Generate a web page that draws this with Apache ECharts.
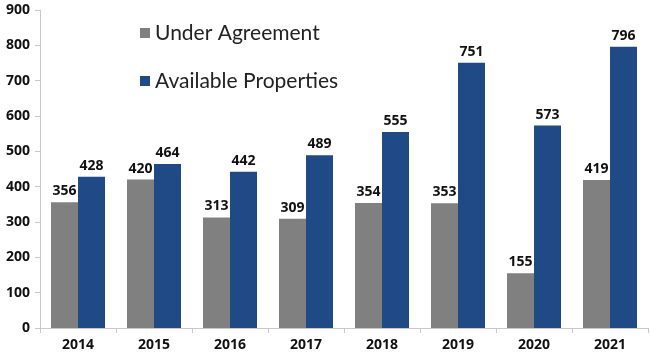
<!DOCTYPE html>
<html><head><meta charset="utf-8">
<script src="https://cdn.jsdelivr.net/npm/echarts@6/dist/echarts.min.js"></script>
<style>html,body{margin:0;padding:0;background:#fff}#c{width:650px;height:358px}</style>
</head><body><div id="c"></div>
<script>
const years = ['2014','2015','2016','2017','2018','2019','2020','2021'];
const underAgreement = [356,420,313,309,354,353,155,419];
const availableProperties = [428,464,442,489,555,751,573,796];
const yTicks = {min:0, max:900, interval:100};

const chart = echarts.init(document.getElementById('c'), null, {renderer:'canvas'});
const lbl = {show:true, position:'top', color:'#111', fontWeight:'bold', fontSize:14, fontFamily:'Open Sans', distance:4};
chart.setOption({
  animation:false,
  grid:{left:40, right:2, top:10, bottom:30, containLabel:false},
  legend:{orient:'vertical', left:135, top:17, itemWidth:10, itemHeight:10, itemGap:26, icon:'rect',
    textStyle:{fontSize:21, lineHeight:22, color:'#222', fontFamily:'Lato'}},
  xAxis:{type:'category', data:years,
    axisLine:{lineStyle:{color:'#c8c8c8'}},
    axisTick:{show:true, alignWithLabel:false, length:5, lineStyle:{color:'#c8c8c8'}},
    axisLabel:{color:'#111', fontWeight:'bold', fontSize:14, fontFamily:'Open Sans', margin:10}},
  yAxis:{type:'value', min:yTicks.min, max:yTicks.max, interval:yTicks.interval,
    splitLine:{show:false},
    axisLine:{show:true, lineStyle:{color:'#c8c8c8'}},
    axisTick:{show:true, length:5, lineStyle:{color:'#c8c8c8'}},
    axisLabel:{color:'#111', fontWeight:'bold', fontSize:14, fontFamily:'Open Sans', margin:10}},
  series:[
    {name:'Under Agreement', type:'bar', data:underAgreement, barWidth:27, barGap:'0%', itemStyle:{color:'#808080'}, label:lbl},
    {name:'Available Properties', type:'bar', data:availableProperties, barWidth:27, itemStyle:{color:'#1f4a85'}, label:lbl}
  ]
});
</script></body></html>
